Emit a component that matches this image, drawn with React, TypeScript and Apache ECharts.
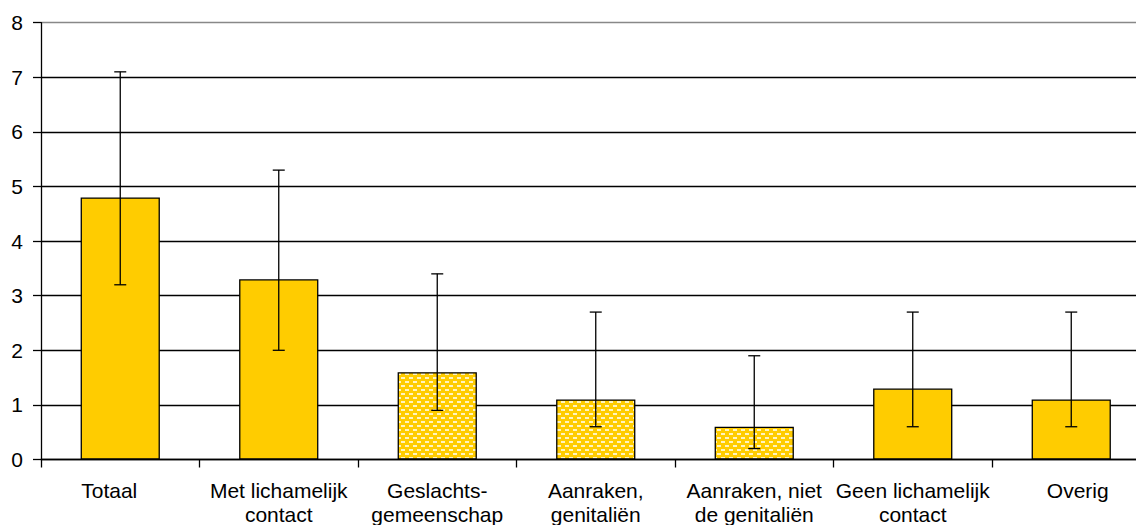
import React, { useEffect, useRef } from "react";
import * as echarts from "echarts";

const categories = [
  "Totaal",
  "Met lichamelijk\ncontact",
  "Geslachts-\ngemeenschap",
  "Aanraken,\ngenitaliën",
  "Aanraken, niet\nde genitaliën",
  "Geen lichamelijk\ncontact",
  "Overig",
];
const values = [4.8, 3.3, 1.6, 1.1, 0.6, 1.3, 1.1];
const lower = [3.2, 2.0, 0.9, 0.6, 0.2, 0.6, 0.6];
const upper = [7.1, 5.3, 3.4, 2.7, 1.9, 2.7, 2.7];
const patterned = [false, false, true, true, true, false, false];
const yTicks = [0, 1, 2, 3, 4, 5, 6, 7, 8];

function makePattern() {
  const c = document.createElement("canvas");
  c.width = 8;
  c.height = 8;
  const ctx = c.getContext("2d")!;
  ctx.fillStyle = "#FFCC00";
  ctx.fillRect(0, 0, 8, 8);
  ctx.fillStyle = "#FFF4C0";
  ctx.fillRect(1, 1, 4, 2);
  ctx.fillRect(5, 5, 3, 2);
  ctx.fillRect(0, 5, 1, 2);
  return { image: c, repeat: "repeat", imageWidth: 8, imageHeight: 8 } as any;
}

export default function App() {
  const ref = useRef<HTMLDivElement>(null);
  useEffect(() => {
    if (!ref.current) return;
    const chart = echarts.init(ref.current, null, { renderer: "svg" });
    const pattern = makePattern();
    const font = "'Liberation Sans', Arial, sans-serif";
    const gridColors = yTicks.map((t) => (t === yTicks[yTicks.length - 1] ? "#888888" : "#000000"));
    const richBase = { color: "#000", fontFamily: font, fontSize: 21, lineHeight: 24 };
    chart.setOption({
      animation: false,
      backgroundColor: "#ffffff",
      grid: { left: 41, right: 9.5, top: 22.7, bottom: 65.5, outerBoundsMode: "none", containLabel: false },
      xAxis: {
        type: "category",
        data: categories,
        boundaryGap: true,
        axisLine: { lineStyle: { color: "#000", width: 1.3 } },
        axisTick: { show: true, length: 8, lineStyle: { color: "#000", width: 1.3 }, alignWithLabel: false },
        axisLabel: {
          interval: 0,
          color: "#000",
          fontFamily: font,
          fontSize: 21,
          lineHeight: 24,
          margin: 19,
          formatter: (v: string, i: number) =>
            i === 0 ? `{l|${v}}` : i === categories.length - 1 ? `{r|${v}}` : v,
          rich: {
            l: { ...richBase, padding: [0, 22, 0, 0] },
            r: { ...richBase, padding: [0, 0, 0, 13] },
          },
        },
      },
      yAxis: {
        type: "value",
        min: 0,
        max: 8,
        interval: 1,
        axisLine: { show: true, lineStyle: { color: "#000", width: 1.3 } },
        axisTick: { show: true, length: 8, lineStyle: { color: "#000", width: 1.3 } },
        axisLabel: { color: "#000", fontFamily: font, fontSize: 21, margin: 18 },
        splitLine: { show: true, lineStyle: { color: gridColors, width: 1.3 } },
      },
      series: [
        {
          type: "bar",
          barWidth: "50%",
          data: values.map((v, i) => ({
            value: v,
            itemStyle: {
              color: patterned[i] ? pattern : "#FFCC00",
              borderColor: "#000",
              borderWidth: 1.3,
            },
          })),
          z: 2,
        },
        {
          type: "custom",
          z: 3,
          data: categories.map((_, i) => [i, lower[i], upper[i]]),
          renderItem: (params: any, api: any) => {
            const x = api.value(0);
            const lo = api.coord([x, api.value(1)]);
            const hi = api.coord([x, api.value(2)]);
            const hw = 6;
            const style = { stroke: "#000", lineWidth: 1.3 };
            return {
              type: "group",
              children: [
                { type: "line", shape: { x1: lo[0], y1: lo[1], x2: hi[0], y2: hi[1] }, style },
                { type: "line", shape: { x1: lo[0] - hw, y1: lo[1], x2: lo[0] + hw, y2: lo[1] }, style },
                { type: "line", shape: { x1: hi[0] - hw, y1: hi[1], x2: hi[0] + hw, y2: hi[1] }, style },
              ],
            };
          },
        },
      ],
    });
    return () => chart.dispose();
  }, []);
  return (
    <div
      ref={ref}
      style={{ position: "absolute", left: 0, top: 0, width: 1160, height: 525 }}
    />
  );
}
